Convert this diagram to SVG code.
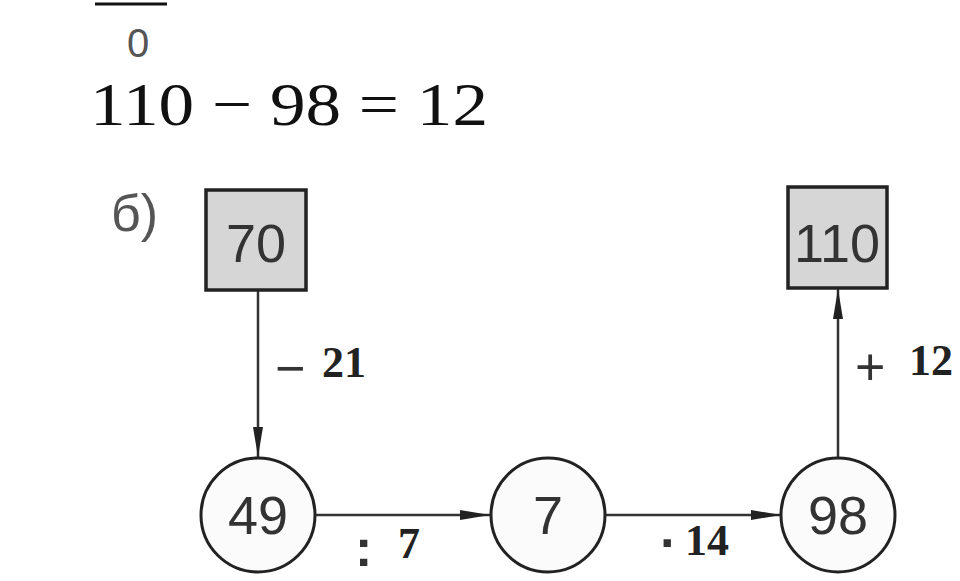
<svg xmlns="http://www.w3.org/2000/svg" width="960" height="581" viewBox="0 0 960 581">
<style>
.box{fill:#d6d6d6;stroke:#222;stroke-width:3.5}
.circ{fill:#fbfbfb;stroke:#222;stroke-width:3}
.nt{font-family:"Liberation Sans",Arial,sans-serif;font-size:54px;fill:#333;text-anchor:middle}
.lbl{font-family:"Liberation Serif","Times New Roman",serif;font-size:44px;font-weight:bold;fill:#222}
.op{font-family:"Liberation Sans",Arial,sans-serif;font-size:52px;fill:#333}
.edge{stroke:#333;stroke-width:2.5;fill:none}
</style>
<defs>
<marker id="ah" viewBox="0 0 30 12" refX="30" refY="6" markerWidth="30" markerHeight="12" markerUnits="userSpaceOnUse" orient="auto">
<path d="M0,1 L30,6 L0,11 Z" fill="#222"/>
</marker>
</defs>
<rect width="960" height="581" fill="#fff"/>
<g id="header">
<line x1="95" y1="4" x2="167" y2="4" stroke="#111" stroke-width="3"/>
<text x="138" y="57" font-family="Liberation Sans,Arial,sans-serif" font-size="40" fill="#555" text-anchor="middle">0</text>
<text x="90" y="125" font-family="Liberation Serif,'Times New Roman',serif" font-size="62" fill="#111" textLength="398" lengthAdjust="spacingAndGlyphs">110 − 98 = 12</text>
<text x="111" y="231" font-family="Liberation Sans,Arial,sans-serif" font-size="52" fill="#555">б)</text>
</g>
<g id="connectors">
<line class="edge" x1="258" y1="290" x2="258" y2="457" marker-end="url(#ah)"/>
<line class="edge" x1="316" y1="515" x2="490" y2="515" marker-end="url(#ah)"/>
<line class="edge" x1="606" y1="515" x2="781" y2="515" marker-end="url(#ah)"/>
<line class="edge" x1="838" y1="458" x2="838" y2="289" marker-end="url(#ah)"/>
<text class="op" x="275" y="386">−</text>
<text class="lbl" x="322" y="377">21</text>
<text class="op" x="855" y="385">+</text>
<text class="lbl" x="909" y="375">12</text>
<text class="op" x="355" y="566" font-weight="bold">:</text>
<text class="lbl" x="398" y="558">7</text>
<text class="op" x="660" y="560" font-weight="bold">·</text>
<text class="lbl" x="685" y="555">14</text>
</g>
<g id="n70">
<rect class="box" x="206" y="190" width="100" height="100"/>
<text class="nt" x="256" y="262">70</text>
</g>
<g id="n110">
<rect class="box" x="788" y="187" width="99" height="101"/>
<text class="nt" x="837" y="262">110</text>
</g>
<g id="n49">
<circle class="circ" cx="258" cy="515" r="57"/>
<text class="nt" x="258" y="534">49</text>
</g>
<g id="n7">
<circle class="circ" cx="548" cy="515" r="57"/>
<text class="nt" x="548" y="534">7</text>
</g>
<g id="n98">
<circle class="circ" cx="838" cy="515" r="57"/>
<text class="nt" x="838" y="534">98</text>
</g>
</svg>
